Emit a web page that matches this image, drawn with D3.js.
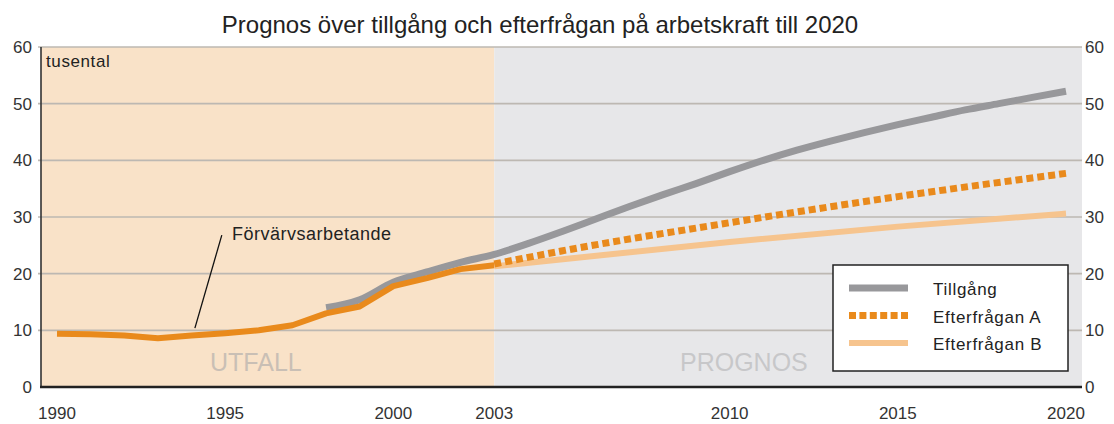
<!DOCTYPE html>
<html>
<head>
<meta charset="utf-8">
<script src="https://cdn.jsdelivr.net/npm/d3@7"></script>
<style>
  body { margin: 0; background: #fff; }
  svg { display: block; font-family: "Liberation Sans", Arial, sans-serif; }
</style>
</head>
<body>
<svg id="chart"></svg>
<script>
// data (tusental)
var histYears = [1990, 1991, 1992, 1993, 1994, 1995, 1996, 1997, 1998, 1999, 2000, 2001, 2002, 2003];
var employed = [9.4, 9.3, 9.1, 8.6, 9.1, 9.5, 10.0, 10.9, 13.0, 14.2, 17.8, 19.2, 20.8, 21.5];

var supplyYears = [1998, 1999, 2000, 2001, 2002, 2003, 2004, 2005, 2006, 2007, 2008, 2009,
  2010, 2011, 2012, 2013, 2014, 2015, 2016, 2017, 2018, 2019, 2020];
var supply = [14.0, 15.4, 18.5, 20.3, 22.0, 23.4, 25.3, 27.4, 29.6, 31.8, 33.9, 35.9,
  38.0, 40.0, 41.8, 43.4, 44.9, 46.3, 47.6, 48.9, 50.0, 51.1, 52.2];

var demandAYears = [2003, 2005, 2010, 2015, 2020];
var demandA = [21.7, 24.0, 29.0, 33.6, 37.7];
var demandBYears = [2003, 2010, 2015, 2020];
var demandB = [21.3, 25.6, 28.3, 30.6];

var xTicks = [1990, 1995, 2000, 2003, 2010, 2015, 2020];
var yTicks = [0, 10, 20, 30, 40, 50, 60];
var splitYear = 2003;

var title = 'Prognos över tillgång och efterfrågan på arbetskraft till 2020';
var legendLabels = ['Tillgång', 'Efterfrågan A', 'Efterfrågan B'];

// setup
var canvasWidth = 1114;
var canvasHeight = 424;
var plot = { left: 41, right: 1082, top: 47, bottom: 387 };

var svg = d3.select('#chart')
  .attr('width', canvasWidth)
  .attr('height', canvasHeight);

var xScale = d3.scaleLinear().domain([1990, 2020]).range([57, 1066]);
var yScale = d3.scaleLinear().domain([0, 60]).range([plot.bottom, plot.top]);

// background areas
svg.append('rect')
  .attr('x', plot.left).attr('y', plot.top)
  .attr('width', xScale(splitYear) - plot.left)
  .attr('height', plot.bottom - plot.top)
  .attr('fill', '#f9e2c8');
svg.append('rect')
  .attr('x', xScale(splitYear)).attr('y', plot.top)
  .attr('width', plot.right - xScale(splitYear))
  .attr('height', plot.bottom - plot.top)
  .attr('fill', '#e7e7e9');

// grid lines
svg.append('g').selectAll('line')
  .data(yTicks.filter(d => d > 0))
  .enter().append('line')
  .attr('x1', plot.left - 3).attr('x2', plot.right)
  .attr('y1', d => yScale(d)).attr('y2', d => yScale(d))
  .attr('stroke', '#bdb8b2').attr('stroke-width', 1.6);

// section labels
svg.append('text')
  .attr('x', 210).attr('y', 371)
  .attr('font-size', 25).attr('fill', '#c9bfb5')
  .text('UTFALL');
svg.append('text')
  .attr('x', 680).attr('y', 371)
  .attr('font-size', 25).attr('fill', '#c7c7c9')
  .text('PROGNOS');

// lines
var line = d3.line().x(d => xScale(d[0])).y(d => yScale(d[1]));
var smooth = d3.line().x(d => xScale(d[0])).y(d => yScale(d[1])).curve(d3.curveMonotoneX);

svg.append('path')
  .datum(d3.zip(supplyYears, supply))
  .attr('d', smooth)
  .attr('fill', 'none').attr('stroke', '#98989b').attr('stroke-width', 7);

svg.append('path')
  .datum(d3.zip(histYears, employed))
  .attr('d', line)
  .attr('fill', 'none').attr('stroke', '#e98a1c').attr('stroke-width', 6)
  .attr('stroke-linejoin', 'round');

svg.append('path')
  .datum(d3.zip(demandBYears, demandB))
  .attr('d', smooth)
  .attr('fill', 'none').attr('stroke', '#f6c48e').attr('stroke-width', 6);

svg.append('path')
  .datum(d3.zip(demandAYears, demandA))
  .attr('d', smooth)
  .attr('fill', 'none').attr('stroke', '#e98a1c').attr('stroke-width', 7)
  .attr('stroke-dasharray', '7,4');

// annotation
svg.append('line')
  .attr('x1', xScale(1994.1)).attr('y1', yScale(10.4))
  .attr('x2', xScale(1994.9)).attr('y2', yScale(26.8))
  .attr('stroke', '#111').attr('stroke-width', 1.3);
svg.append('text')
  .attr('x', xScale(1995.2)).attr('y', yScale(25.9))
  .attr('font-size', 18).attr('letter-spacing', 0.5).attr('fill', '#222')
  .text('Förvärvsarbetande');

svg.append('text')
  .attr('x', 46).attr('y', 67)
  .attr('font-size', 17).attr('letter-spacing', 0.6).attr('fill', '#222')
  .text('tusental');

// axes
svg.append('line')
  .attr('x1', plot.left).attr('x2', plot.left)
  .attr('y1', plot.top).attr('y2', plot.bottom)
  .attr('stroke', '#333').attr('stroke-width', 1.6);
svg.append('line')
  .attr('x1', plot.left - 1).attr('x2', plot.right)
  .attr('y1', plot.bottom).attr('y2', plot.bottom)
  .attr('stroke', '#222').attr('stroke-width', 2.6);

svg.append('g').selectAll('text')
  .data(yTicks).enter().append('text')
  .attr('x', 32).attr('y', d => yScale(d)).attr('dy', '0.36em')
  .attr('text-anchor', 'end').attr('font-size', 17).attr('fill', '#333')
  .text(d => d);
svg.append('g').selectAll('text')
  .data(yTicks).enter().append('text')
  .attr('x', 1085).attr('y', d => yScale(d)).attr('dy', '0.36em')
  .attr('font-size', 17).attr('fill', '#333')
  .text(d => d);

svg.append('g').selectAll('text')
  .data(xTicks).enter().append('text')
  .attr('x', d => xScale(d)).attr('y', 419)
  .attr('text-anchor', 'middle').attr('font-size', 17).attr('fill', '#333')
  .text(d => d);

// title
svg.append('text')
  .attr('x', 540).attr('y', 33)
  .attr('text-anchor', 'middle').attr('font-size', 24).attr('fill', '#222')
  .text(title);

// legend
var legend = svg.append('g').attr('transform', 'translate(833,265)');
legend.append('rect')
  .attr('width', 235).attr('height', 106)
  .attr('fill', '#fff').attr('stroke', '#222').attr('stroke-width', 1.5);
var legendStyles = [
  { stroke: '#98989b', width: 7, dash: null },
  { stroke: '#e98a1c', width: 7, dash: '7,3.4' },
  { stroke: '#f6c48e', width: 6, dash: null }
];
legendLabels.forEach(function(label, i) {
  var y = 23 + i * 27.5;
  var s = legendStyles[i];
  legend.append('line')
    .attr('x1', 16).attr('x2', 75).attr('y1', y).attr('y2', y)
    .attr('stroke', s.stroke).attr('stroke-width', s.width)
    .attr('stroke-dasharray', s.dash);
  legend.append('text')
    .attr('x', 100).attr('y', y + 7)
    .attr('font-size', 17).attr('letter-spacing', 0.7).attr('fill', '#222')
    .text(label);
});
</script>
</body>
</html>
